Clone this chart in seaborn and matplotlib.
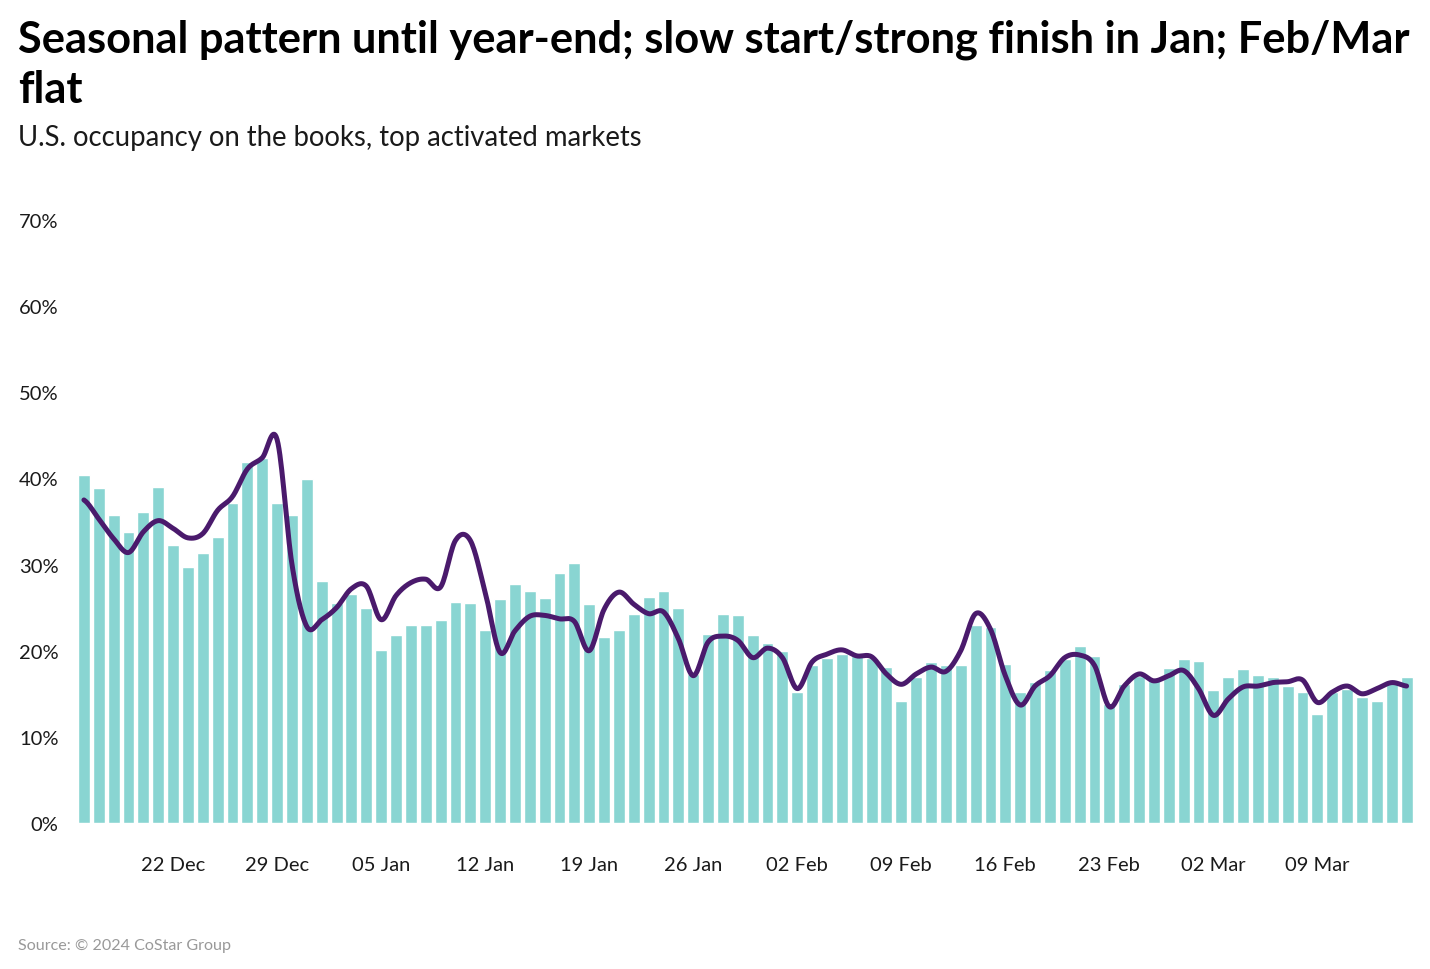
import numpy as np
import pandas as pd
import matplotlib
matplotlib.use("Agg")
import matplotlib.pyplot as plt
import seaborn as sns

sns.set_theme(style="white")
plt.rcParams["font.family"] = ["Lato", "DejaVu Sans"]

# daily occupancy on the books (%), 16 Dec - 15 Mar
occupancy = [40.4, 38.9, 35.8, 33.8, 36.1, 39.0, 32.3, 29.7, 31.3, 33.2, 37.2, 41.9, 42.4, 37.2, 35.8, 39.9,
             28.1, 25.5, 26.6, 25.0, 20.1, 21.8, 23.0, 23.0, 23.6, 25.7, 25.5, 22.4, 26.0, 27.8, 26.9, 26.1,
             29.0, 30.2, 25.4, 21.6, 22.4, 24.3, 26.2, 26.9, 25.0, 17.3, 21.9, 24.3, 24.1, 21.8, 20.9,
             20.0, 15.2, 18.3, 19.2, 19.6, 19.4, 19.2, 18.1, 14.2, 17.0, 18.7, 18.3, 18.3, 23.0, 22.8,
             18.5, 15.2, 16.4, 17.8, 19.0, 20.5, 19.4, 13.8, 16.1, 17.1, 16.7, 18.0, 19.0, 18.8, 15.4, 17.0,
             17.9, 17.2, 16.9, 15.9, 15.2, 12.7, 15.2, 15.5, 14.6, 14.2, 16.6, 17.0]

# comparison line (%), same days
comparison = [37.5, 35.3, 33.0, 31.4, 33.8, 35.1, 34.2, 33.1, 33.6, 36.3, 37.9, 41.1, 42.4, 44.5, 30.0, 22.8,
              23.6, 25.0, 27.2, 27.5, 23.6, 26.4, 27.9, 28.3, 27.4, 32.8, 32.8, 26.8, 19.8, 22.3, 24.0, 24.1,
              23.7, 23.4, 20.0, 24.8, 26.8, 25.4, 24.3, 24.5, 21.4, 17.1, 21.0, 21.7, 21.2, 19.2, 20.3,
              19.2, 15.6, 18.7, 19.6, 20.1, 19.4, 19.3, 17.3, 16.1, 17.3, 18.1, 17.6, 20.0, 24.3, 22.5,
              17.1, 13.7, 15.9, 17.1, 19.2, 19.5, 18.3, 13.5, 15.9, 17.3, 16.5, 17.1, 17.7, 15.6, 12.5, 14.4,
              15.8, 15.9, 16.3, 16.4, 16.6, 14.0, 15.2, 15.9, 15.0, 15.6, 16.3, 15.9]

dates = pd.date_range("2024-12-16", "2025-03-15", freq="D")
df = pd.DataFrame({"date": dates.strftime("%Y-%m-%d"), "occ": occupancy})

BAR = "#89D5D2"
LINE = "#4A1A6C"
INK = "#1a1a1a"


def catmull_rom(y, n=16):
    # smooth curve through every point, like the original chart's line
    y = np.asarray(y, dtype=float)
    p = np.concatenate([[y[0]], y, [y[-1]]])
    xs, ys = [], []
    t = np.linspace(0, 1, n, endpoint=False)
    for i in range(len(y) - 1):
        p0, p1, p2, p3 = p[i], p[i + 1], p[i + 2], p[i + 3]
        seg = 0.5 * (2 * p1 + (-p0 + p2) * t + (2 * p0 - 5 * p1 + 4 * p2 - p3) * t ** 2
                     + (-p0 + 3 * p1 - 3 * p2 + p3) * t ** 3)
        xs.append(i + t)
        ys.append(seg)
    xs.append([len(y) - 1])
    ys.append([y[-1]])
    return np.concatenate(xs), np.concatenate(ys)


fig = plt.figure(figsize=(14.3, 9.7), dpi=100)
ax = fig.add_axes([76.5 / 1430, 146 / 970, (1414 - 76.5) / 1430, (824 - 221) / 970])

sns.barplot(data=df, x="date", y="occ", color=BAR, saturation=1, width=0.8, ax=ax)
lx, ly = catmull_rom(comparison)
ax.plot(lx, ly, color=LINE, lw=3.6, solid_capstyle="round", solid_joinstyle="round")

ax.set_xlim(-0.5, len(dates) - 0.5)
ax.set_ylim(0, 70)
ax.set_yticks(range(0, 71, 10))
ax.set_yticklabels([f"{v}%" for v in range(0, 71, 10)], fontsize=14.5, color=INK)
tick_pos = list(range(6, len(dates), 7))
ax.set_xticks(tick_pos)
ax.set_xticklabels(dates[tick_pos].strftime("%d %b"), fontsize=14.5, color=INK)
ax.tick_params(axis="y", length=0, pad=13)
ax.tick_params(axis="x", length=0, pad=24)
ax.set_xlabel("")
ax.set_ylabel("")
sns.despine(ax=ax, left=True, bottom=True)

title_lines = ["Seasonal pattern until year-end; slow start/strong finish in Jan; Feb/Mar", "flat"]
for line, base in zip(title_lines, [53, 103]):
    fig.text(18 / 1430, 1 - base / 970, line, fontsize=31.2, fontweight="bold",
             color="black", va="baseline", ha="left")
fig.text(18 / 1430, 1 - 138 / 970, "U.S. occupancy on the books, top activated markets",
         fontsize=19.8, color=INK, va="center", ha="left")
fig.text(18 / 1430, 1 - 946 / 970, "Source: © 2024 CoStar Group",
         fontsize=11.6, color="#999999", va="center", ha="left")

fig.savefig("out.png", dpi=100)
